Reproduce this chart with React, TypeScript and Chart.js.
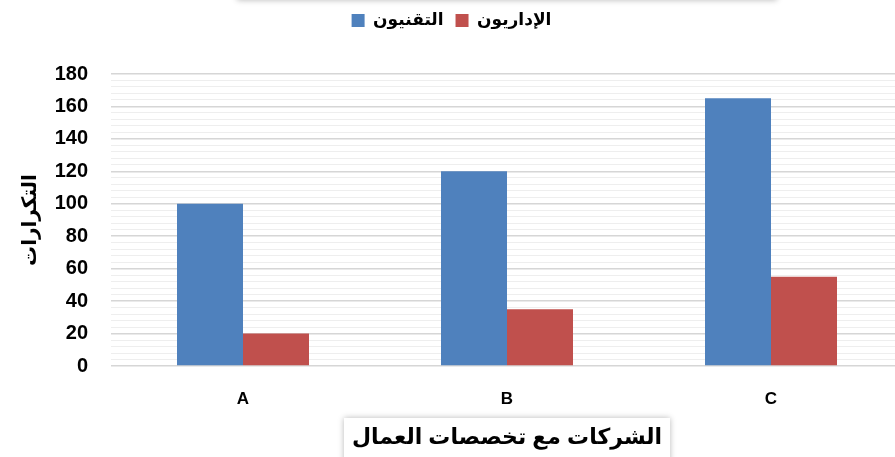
import React, { useEffect, useRef } from "react";
import { Chart, registerables } from "chart.js";

Chart.register(...registerables);

const categories = ["A", "B", "C"];
const technicians = [100, 120, 165];
const administrators = [20, 35, 55];
const seriesNames = ["التقنيون", "الإداريون"];
const yTitle = "التكرارات";
const xTitle = "الشركات مع تخصصات العمال";
const yMin = 0;
const yMax = 180;
const majorStep = 20;
const minorStep = 4;

const FONT = "'Liberation Sans', 'DejaVu Sans', Arial, sans-serif";

const decorPlugin = {
  id: "decor",
  beforeDraw(chart: any) {
    const { ctx } = chart;
    const xs = chart.scales.x;
    ctx.save();
    ctx.fillStyle = "#ffffff";
    ctx.shadowColor = "rgba(0,0,0,0.28)";
    ctx.shadowBlur = 6;
    const cx = (xs.left + xs.right) / 2;
    ctx.fillRect(cx - 163, xs.bottom - 39, 326, 60);
    ctx.fillRect(cx - 270, -60, 540, 60);
    ctx.restore();
  },
};

export default function App() {
  const ref = useRef<HTMLCanvasElement>(null);
  useEffect(() => {
    if (!ref.current) return;
    const chart = new Chart(ref.current, {
      type: "bar",
      data: {
        labels: categories,
        datasets: [
          {
            label: seriesNames[0],
            data: technicians,
            backgroundColor: "#4F81BD",
            categoryPercentage: 0.5,
            barPercentage: 1,
          },
          {
            label: seriesNames[1],
            data: administrators,
            backgroundColor: "#C0504D",
            categoryPercentage: 0.5,
            barPercentage: 1,
          },
        ],
      },
      options: {
        responsive: false,
        animation: false,
        layout: { padding: 0 },
        plugins: {
          legend: {
            position: "top",
            labels: {
              boxWidth: 13,
              boxHeight: 13,
              padding: 12,
              color: "#000",
              font: { family: FONT, size: 17, weight: "bold" },
            },
          },
          subtitle: {
            display: true,
            text: "",
            weight: 500,
            font: { size: 1, lineHeight: 1 },
            padding: { top: 0, bottom: 34 },
          } as any,
          tooltip: { enabled: false },
        },
        scales: {
          x: {
            grid: { display: false },
            border: { display: false },
            ticks: {
              color: "#000",
              padding: 15,
              font: { family: FONT, size: 17, weight: "bold" },
            },
            title: {
              display: true,
              text: xTitle,
              color: "#000",
              font: { family: FONT, size: 22, weight: "bold" },
              padding: { top: 0, bottom: 6 },
            },
            afterFit(scale: any) {
              scale.height = 91;
            },
          },
          y: {
            min: yMin,
            max: yMax,
            border: { display: false },
            grid: {
              drawTicks: false,
              color: (c: any) =>
                c.tick && c.tick.value % majorStep === 0 ? "#d6d6d6" : "#eeeeee",
              lineWidth: (c: any) =>
                c.tick && c.tick.value % majorStep === 0 ? 1.5 : 1,
            },
            ticks: {
              count: (yMax - yMin) / minorStep + 1,
              autoSkip: false,
              padding: 23,
              color: "#000",
              font: { family: FONT, size: 20, weight: "bold" },
              callback: (v: any) =>
                Math.round(v) % majorStep === 0 ? String(Math.round(v)) : "",
            },
            title: {
              display: true,
              text: yTitle,
              color: "#000",
              font: { family: FONT, size: 20, weight: "bold" },
              padding: { top: 18, bottom: 0 },
            },
            afterFit(scale: any) {
              scale.width = 111;
            },
          },
        },
      },
      plugins: [decorPlugin],
    });
    return () => chart.destroy();
  }, []);

  return (
    <div
      style={{
        position: "absolute",
        left: 0,
        top: 0,
        width: 895,
        height: 457,
        overflow: "hidden",
        background: "#fff",
      }}
    >
      <canvas ref={ref} width={903} height={457} style={{ display: "block" }} />
    </div>
  );
}
